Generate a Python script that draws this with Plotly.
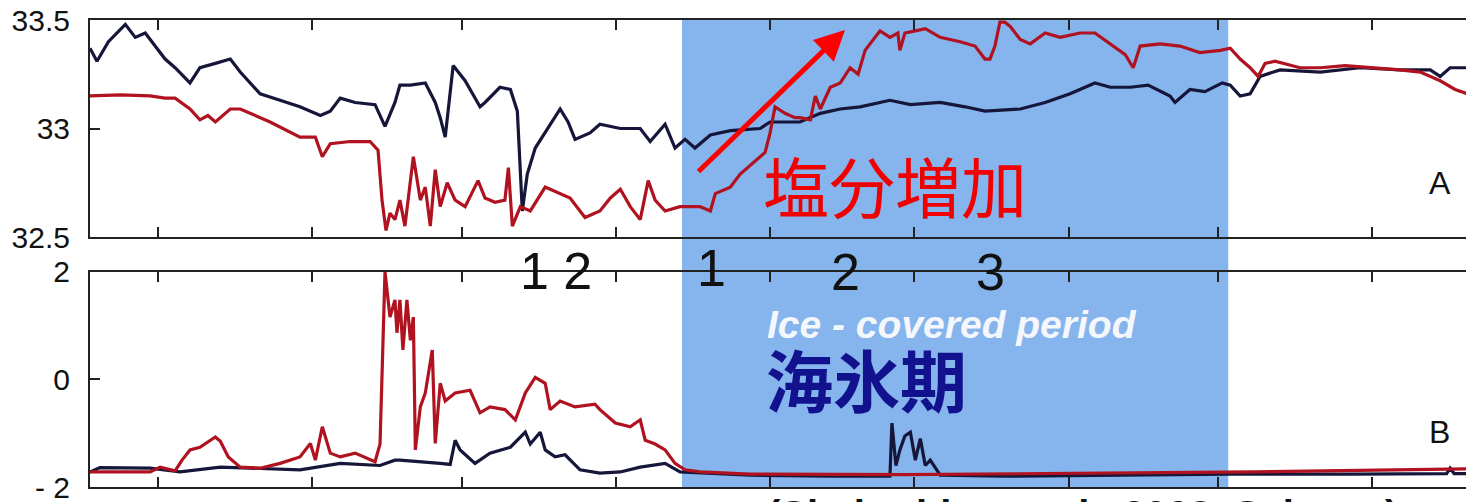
import pandas as pd
import plotly.graph_objects as go

# ---- data (days since 1999-09-01) ----
a_navy_day = [16.3, 17.7, 20.0, 22.4, 23.4, 25.4, 27.4, 31.4, 33.4, 36.4, 38.4, 41.5, 44.5, 46.5, 50.5,
              54.5, 58.5, 62.6, 64.6, 66.6, 69.6, 73.6, 75.6, 77.6, 78.6, 80.7, 83.7, 85.7, 86.7, 87.7,
              89.3, 91.7, 93.7, 94.7, 95.7, 98.7, 100.8, 102.2, 103.2, 104.2, 105.8, 107.8, 110.8, 112.4,
              113.8, 116.8, 118.8, 122.9, 126.9, 128.9, 131.9, 133.9, 135.9, 137.9, 141.0, 145.0, 151.0,
              153.0, 159.0, 163.1, 167.1, 171.1, 177.1, 181.2, 187.2, 192.2, 196.2, 203.3, 208.3, 213.3,
              218.3, 221.4, 225.4, 229.0, 233.4, 234.4, 237.4, 240.4, 243.9, 245.5, 247.5, 249.5, 251.5,
              255.5, 263.6, 271.6, 279.6, 285.7, 287.7, 289.7, 294.5]
a_navy_val = [33.37, 33.31, 33.40, 33.46, 33.48, 33.42, 33.44, 33.32, 33.28, 33.21, 33.28, 33.30, 33.32,
              33.26, 33.16, 33.13, 33.10, 33.06, 33.08, 33.14, 33.12, 33.11, 33.01, 33.12, 33.20, 33.20,
              33.21, 33.12, 33.05, 32.96, 33.29, 33.22, 33.14, 33.10, 33.12, 33.19, 33.18, 33.08, 32.62,
              32.79, 32.91, 32.98, 33.09, 33.03, 32.95, 32.98, 33.02, 33.00, 33.00, 32.94, 33.02, 32.91,
              32.95, 32.91, 32.97, 32.99, 33.00, 33.03, 33.03, 33.07, 33.09, 33.10, 33.13, 33.11, 33.12,
              33.10, 33.08, 33.09, 33.12, 33.16, 33.21, 33.19, 33.19, 33.20, 33.15, 33.12, 33.18, 33.17,
              33.21, 33.20, 33.15, 33.16, 33.24, 33.27, 33.26, 33.28, 33.27, 33.27, 33.24, 33.28, 33.28]

a_red_day = [16.3, 22.4, 28.4, 31.4, 33.4, 36.4, 38.4, 40.0, 41.5, 43.0, 44.5, 46.5, 52.5, 58.5, 61.6,
             63.0, 64.6, 68.6, 72.6, 74.2, 75.0, 75.8, 76.6, 77.6, 78.6, 79.6, 81.3, 82.7, 83.7, 84.7,
             85.7, 86.7, 88.1, 89.7, 91.7, 94.3, 95.7, 97.7, 99.7, 100.4, 101.2, 102.8, 104.8, 107.8,
             110.8, 112.8, 115.8, 118.8, 120.9, 122.9, 124.9, 126.9, 128.5, 129.9, 131.9, 134.9, 138.9,
             141.0, 142.0, 145.0, 147.0, 150.0, 152.0, 153.0, 154.0, 156.0, 158.0, 159.0, 161.1, 162.1,
             163.1, 165.1, 167.1, 169.1, 170.7, 172.1, 175.1, 177.1, 178.7, 179.1, 180.1, 182.2, 184.2,
             187.2, 191.2, 194.2, 196.2, 197.2, 198.2, 199.2, 200.2, 201.3, 203.3, 205.3, 208.3, 211.3,
             215.3, 218.3, 221.4, 224.4, 226.0, 227.4, 231.4, 235.4, 239.4, 243.5, 245.5, 247.5, 249.5,
             251.1, 252.5, 254.5, 259.5, 263.6, 268.6, 274.6, 279.6, 283.7, 287.7, 290.7, 294.5]
a_red_val = [33.15, 33.155, 33.15, 33.14, 33.14, 33.09, 33.04, 33.06, 33.03, 33.06, 33.09, 33.09, 33.03,
             32.96, 32.96, 32.87, 32.93, 32.94, 32.94, 32.90, 32.67, 32.53, 32.61, 32.58, 32.67, 32.55,
             32.87, 32.67, 32.73, 32.55, 32.81, 32.64, 32.75, 32.67, 32.64, 32.76, 32.68, 32.66, 32.67,
             32.82, 32.55, 32.64, 32.62, 32.73, 32.70, 32.68, 32.59, 32.62, 32.68, 32.72, 32.64, 32.58,
             32.76, 32.67, 32.62, 32.64, 32.64, 32.62, 32.70, 32.73, 32.79, 32.85, 32.89, 32.98, 33.10,
             33.07, 33.05, 33.05, 33.04, 33.15, 33.09, 33.19, 33.21, 33.28, 33.25, 33.36, 33.45, 33.42,
             33.44, 33.36, 33.44, 33.45, 33.46, 33.42, 33.40, 33.38, 33.32, 33.32, 33.38, 33.49, 33.49,
             33.47, 33.41, 33.39, 33.44, 33.42, 33.44, 33.44, 33.39, 33.34, 33.28, 33.38, 33.39, 33.38,
             33.35, 33.36, 33.37, 33.32, 33.28, 33.24, 33.30, 33.31, 33.28, 33.28, 33.29, 33.28, 33.27,
             33.26, 33.22, 33.18, 33.15]

b_navy_day = [16.3, 18.3, 28.4, 34.4, 42.5, 48.5, 58.5, 66.6, 74.6, 77.6, 78.6, 86.7, 88.7, 89.7, 90.7,
              93.7, 96.7, 100.8, 102.8, 103.8, 104.8, 106.8, 107.8, 109.8, 111.8, 114.8, 118.8, 122.9,
              126.9, 131.9, 134.9, 138.9, 149.0, 165.1, 177.1, 177.5, 178.3, 179.1, 180.1, 181.2, 182.2,
              183.2, 184.2, 185.2, 187.2, 200.0, 245.5, 270.0, 289.0, 289.7, 290.5, 294.5]
b_navy_val = [-1.72, -1.64, -1.65, -1.72, -1.63, -1.65, -1.68, -1.56, -1.60, -1.50, -1.50, -1.56, -1.58,
              -1.13, -1.31, -1.56, -1.37, -1.26, -1.07, -0.98, -1.20, -0.98, -1.31, -1.44, -1.40, -1.68,
              -1.74, -1.72, -1.63, -1.56, -1.72, -1.74, -1.78, -1.80, -1.80, -0.81, -1.60, -1.31, -1.05,
              -0.98, -1.50, -1.10, -1.60, -1.50, -1.78, -1.80, -1.76, -1.76, -1.75, -1.65, -1.75, -1.75]

b_red_day = [16.3, 28.4, 30.4, 33.4, 34.8, 36.4, 38.4, 40.5, 41.5, 42.5, 44.1, 46.5, 50.5, 54.5, 58.5,
             60.6, 61.6, 63.0, 64.6, 66.6, 69.6, 73.6, 74.6, 75.6, 76.6, 77.6, 78.0, 78.6, 79.2, 80.0,
             80.7, 81.3, 81.7, 82.7, 83.7, 85.1, 85.7, 86.7, 87.7, 89.7, 92.7, 94.7, 96.7, 99.7, 101.8,
             103.8, 105.8, 107.8, 108.8, 110.8, 113.8, 117.8, 118.8, 121.9, 124.9, 126.9, 127.9, 129.9,
             131.9, 133.9, 135.9, 138.9, 149.0, 180.0, 230.0, 250.0, 294.5]
b_red_val = [-1.72, -1.72, -1.63, -1.70, -1.50, -1.31, -1.26, -1.13, -1.07, -1.15, -1.44, -1.63, -1.65,
             -1.56, -1.44, -1.19, -1.50, -0.88, -1.37, -1.44, -1.37, -1.53, -1.20, 2.00, 1.16, 1.48, 0.87,
             1.48, 0.55, 1.48, 0.73, 1.16, -1.31, -0.51, -0.25, 0.55, -1.19, -0.07, -0.40, -0.25, -0.20,
             -0.62, -0.51, -0.56, -0.75, -0.25, 0.04, -0.07, -0.56, -0.40, -0.51, -0.46, -0.56, -0.81,
             -0.88, -0.75, -1.13, -1.20, -1.31, -1.56, -1.68, -1.72, -1.76, -1.77, -1.74, -1.72, -1.66]

ice_start_day, ice_end_day = 135.3, 245.1
axis_start_day, axis_end_day = 16.3, 294.5

a_ticks = [33.5, 33.0, 32.5]
a_ticktext = ["33.5", "33", "32.5"]
b_ticks = [2, 0, -2]
b_ticktext = ["2", "0", "- 2"]

base = pd.Timestamp("1999-09-01")


def to_dates(days):
    return base + pd.to_timedelta(pd.Series(days, dtype=float), unit="D")


NAVY = "#15163a"
RED = "#b0121f"
FONT = "Liberation Sans, Arial, sans-serif"
CJK = "Noto Sans CJK JP, sans-serif"

fig = go.Figure()
fig.add_trace(go.Scatter(x=to_dates(a_navy_day), y=a_navy_val, mode="lines",
                         line=dict(color=NAVY, width=3.2), xaxis="x", yaxis="y"))
fig.add_trace(go.Scatter(x=to_dates(a_red_day), y=a_red_val, mode="lines",
                         line=dict(color=RED, width=3.2), xaxis="x", yaxis="y"))
fig.add_trace(go.Scatter(x=to_dates(b_navy_day), y=b_navy_val, mode="lines",
                         line=dict(color=NAVY, width=3.2), xaxis="x2", yaxis="y2"))
fig.add_trace(go.Scatter(x=to_dates(b_red_day), y=b_red_val, mode="lines",
                         line=dict(color=RED, width=3.2), xaxis="x2", yaxis="y2"))

xrange_ = list(to_dates([axis_start_day, axis_end_day]))
xcommon = dict(type="date", range=xrange_, showline=True, linecolor="#222", linewidth=2,
               mirror="ticks", ticks="inside", ticklen=10, tickwidth=2, tickcolor="#222",
               dtick="M1", tick0="1999-10-01", showticklabels=False, showgrid=False, zeroline=False)
ycommon = dict(showline=True, linecolor="#222", linewidth=2, mirror=False, ticks="inside",
               ticklen=10, tickwidth=2, tickcolor="#222", showgrid=False, zeroline=False,
               tickfont=dict(family=FONT, size=30, color="#111"), ticklabelstandoff=12,
               ticklabeloverflow="allow")

# the page body has an 8px margin, so the figure is 8px smaller and margins shifted
fig.update_layout(
    width=1466, height=494,
    margin=dict(l=82, r=0, t=12, b=15, autoexpand=False),
    paper_bgcolor="white", plot_bgcolor="rgba(0,0,0,0)",
    template="none", showlegend=False,
    xaxis=dict(**xcommon, domain=[0, 1], anchor="y"),
    xaxis2=dict(**xcommon, domain=[0, 1], anchor="y2", matches="x"),
    yaxis=dict(**ycommon, domain=[0.5353, 1], range=[32.5, 33.5], tickvals=a_ticks,
               ticktext=a_ticktext, anchor="x"),
    yaxis2=dict(**ycommon, domain=[0, 0.4604], range=[-2, 2], tickvals=b_ticks,
                ticktext=b_ticktext, anchor="x2"),
)

ice = list(to_dates([ice_start_day, ice_end_day]))
fig.add_shape(type="rect", xref="x", yref="paper", x0=ice[0], x1=ice[1], y0=0, y1=1,
              fillcolor="#86b4ec", line=dict(width=0), layer="below")

def txt(s, x, y, size, color="#111", family=FONT, **kw):
    kw.setdefault("yanchor", "middle")
    kw.setdefault("xanchor", "center")
    fig.add_annotation(text=s, x=x, y=y, xref="paper", yref="paper", showarrow=False,
                       font=dict(family=family, size=size, color=color), **kw)

txt("1 2", 0.3367, 0.4625, 52)
txt("1", 0.4487, 0.469, 52)
txt("2", 0.5462, 0.4604, 52)
txt("3", 0.6503, 0.4604, 52)
txt("塩分増加", 0.5815, 0.6488, 66, color="#f00000", family=CJK)
txt("<b><i>Ice - covered period</i></b>", 0.6228, 0.3469, 39, color="#f4f7fc")
txt("<b>海氷期</b>", 0.561, 0.2355, 67, color="#12128f", family=CJK)
txt("A", 0.9754, 0.651, 32)
txt("B", 0.9754, 0.1178, 32)
txt("<b>(Shcherbina et al., 2003, Science)</b>", 0.4877, -0.0086, 40,
    xanchor="left", yanchor="top")

fig.add_annotation(x=0.5455, y=0.9786, xref="paper", yref="paper", text="",
                   showarrow=True, ax=-148, ay=143, arrowcolor="#ff0000",
                   arrowwidth=5, arrowhead=2, arrowsize=1.2, standoff=0, startstandoff=0)

fig.write_html("out.html")
